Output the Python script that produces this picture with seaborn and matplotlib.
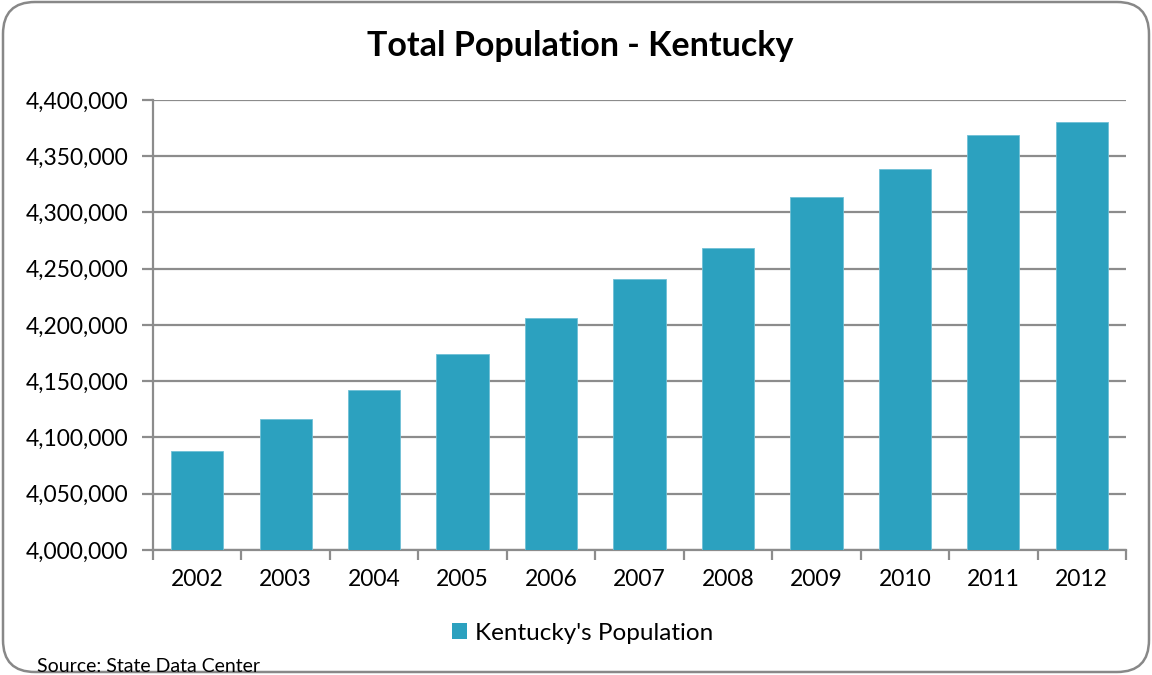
import matplotlib
matplotlib.use("Agg")
import matplotlib.pyplot as plt
import seaborn as sns
import pandas as pd
import numpy as np
from matplotlib.patches import FancyBboxPatch, Rectangle
from matplotlib.ticker import FuncFormatter, FixedLocator

years = ["2002", "2003", "2004", "2005", "2006", "2007", "2008", "2009", "2010", "2011", "2012"]
population = [4088400, 4116600, 4141800, 4174000, 4206000, 4241100, 4268700, 4313600, 4338500, 4369000, 4380000]
series_name = "Kentucky's Population"
title = "Total Population - Kentucky"
source = "Source: State Data Center"
y_ticks = [4000000, 4050000, 4100000, 4150000, 4200000, 4250000, 4300000, 4350000, 4400000]

sns.set_theme(style="white")
plt.rcParams['font.family'] = ['Lato', 'DejaVu Sans']
plt.rcParams['text.color'] = 'black'

bar_color = "#2CA1BF"
grid_color = "#8C8C8C"

df = pd.DataFrame({"Year": years, "Population": population})

fig = plt.figure(figsize=(11.52, 6.75), dpi=100)

# background frame axes in pixel coordinates
bg = fig.add_axes([0, 0, 1, 1], zorder=0)
bg.set_xlim(0, 1152)
bg.set_ylim(675, 0)
bg.axis("off")
bg.add_patch(FancyBboxPatch((3, 2), 1146, 670, boxstyle="round,pad=0,rounding_size=32",
                            linewidth=1.8, edgecolor="#888888", facecolor="white"))

ax = fig.add_axes([153/1152, 1-550/675, (1126-153)/1152, 450/675], zorder=1)
ax.patch.set_alpha(0)
sns.barplot(data=df, x="Year", y="Population", color=bar_color, width=0.59,
            saturation=1, ax=ax, edgecolor="#6FC0D6", linewidth=0.6, label=series_name, zorder=3)

ax.set_ylim(4000000, 4400000)
ax.set_xlim(-0.5, len(years) - 0.5)
ax.yaxis.set_major_locator(FixedLocator(y_ticks))
ax.yaxis.set_major_formatter(FuncFormatter(lambda v, p: f"{int(v):,}"))
ax.grid(axis="y", color=grid_color, linewidth=1.6, zorder=0)
ax.set_axisbelow(True)

for s in ["top", "right"]:
    ax.spines[s].set_visible(False)
for s in ["left", "bottom"]:
    ax.spines[s].set_color(grid_color)
    ax.spines[s].set_linewidth(1.6)

ax.tick_params(axis="y", which="major", left=True, length=8, width=1.6, color=grid_color,
               labelsize=16.5, pad=10, labelcolor="black")
ax.tick_params(axis="x", which="major", bottom=False, labelsize=16.5, pad=8, labelcolor="black")
ax.set_xticks(np.arange(-0.5, len(years), 1.0), minor=True)
ax.tick_params(axis="x", which="minor", bottom=True, length=7, width=1.6, color=grid_color)
ax.set_xlabel("")
ax.set_ylabel("")
if ax.get_legend() is not None:
    ax.get_legend().remove()

fig.text(580/1152, 1-46/675, title, ha="center", va="center", fontsize=24.5,
         fontweight="bold", color="black")

# legend
handles = [Rectangle((0, 0), 1, 1, facecolor=bar_color, edgecolor="none")]
leg = fig.legend(handles, [series_name], loc="center", bbox_to_anchor=(583/1152, 1-633/675),
                 frameon=False, fontsize=17.5, handlelength=0.6, handleheight=0.6,
                 handletextpad=0.35)
for t in leg.get_texts():
    t.set_color("black")

fig.text(37/1152, 1-666/675, source, ha="left", va="center", fontsize=14, color="black")

fig.savefig("out.png", dpi=100)
